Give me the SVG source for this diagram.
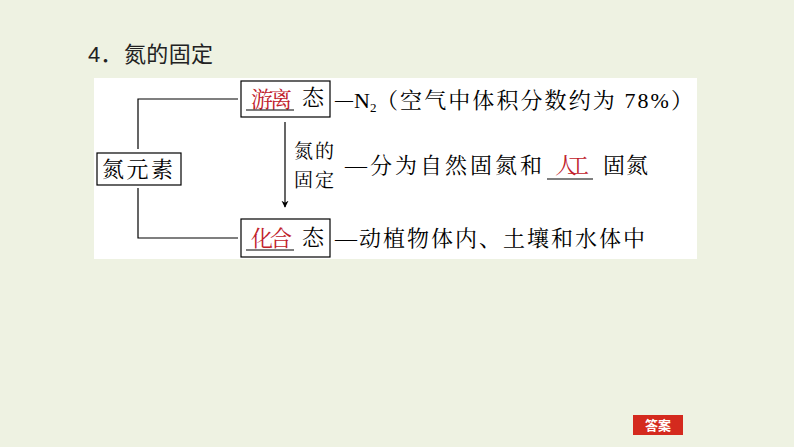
<svg xmlns="http://www.w3.org/2000/svg" width="794" height="447" viewBox="0 0 794 447">
<style>
.s{font-family:"Liberation Serif","Noto Serif CJK SC","Noto Sans CJK SC",serif;fill:#000}
.t{font-size:22px}
.r{fill:#C0202A}
.box{fill:#fff;stroke:#000;stroke-width:1.2}
.ln{fill:none;stroke:#000;stroke-width:1.2}
.ul{stroke:#000;stroke-width:1.2}
</style>
<defs>
<marker id="ah" viewBox="0 0 10 10" refX="9" refY="5" markerWidth="7" markerHeight="9" orient="auto" markerUnits="userSpaceOnUse">
<path d="M0,0 L10,5 L0,10 L3,5 Z" fill="#000"/>
</marker>
</defs>
<rect width="794" height="447" fill="#EEF2E2"/>
<text x="88" y="62" font-family="'Liberation Sans','Noto Sans CJK SC',sans-serif" font-size="22" fill="#222">4．<tspan x="124" font-family="'Noto Sans CJK SC',sans-serif" textLength="89" lengthAdjust="spacing">氮的固定</tspan></text>
<rect x="94" y="78" width="603" height="181" fill="#fff"/>
<g id="connectors">
<polyline class="ln" points="138,149 138,99 238,99"/>
<polyline class="ln" points="138,188 138,238 238,238"/>
<line class="ln" x1="285" y1="122" x2="285" y2="207" marker-end="url(#ah)"/>
</g>
<g id="n-element">
<rect class="box" x="97" y="153" width="84" height="32"/>
<text class="s t" x="102" y="177" textLength="71" lengthAdjust="spacing">氮元素</text>
</g>
<g id="n-free">
<rect class="box" x="241" y="81" width="89" height="36"/>
<text class="s t r" x="251" y="107" textLength="41" lengthAdjust="spacing">游离</text>
<line class="ul" x1="246" y1="110" x2="294" y2="110"/>
<text class="s t" x="302" y="105">态</text>
</g>
<g id="n-comb">
<rect class="box" x="241" y="219" width="89" height="38"/>
<text class="s t r" x="251" y="246" textLength="41" lengthAdjust="spacing">化合</text>
<line class="ul" x1="246" y1="250" x2="294" y2="250"/>
<text class="s t" x="302" y="245">态</text>
</g>
<g id="fix-label">
<text class="s" font-size="19" x="294" y="158" textLength="40" lengthAdjust="spacing">氮的</text>
<text class="s" font-size="19" x="294" y="187" textLength="40" lengthAdjust="spacing">固定</text>
</g>
<g id="desc1">
<text class="s" font-size="18" x="335" y="106">—</text>
<text class="s t" x="354" y="108">N<tspan font-size="13" dy="4">2</tspan></text>
<text class="s t" x="376" y="108" textLength="317" lengthAdjust="spacing">（空气中体积分数约为 78%）</text>
</g>
<g id="desc2">
<text class="s t" x="345" y="173" textLength="197" lengthAdjust="spacing">—分为自然固氮和</text>
<text class="s t r" x="555" y="173" textLength="34" lengthAdjust="spacing">人工</text>
<line class="ul" x1="547" y1="179" x2="593" y2="179"/>
<text class="s t" x="603" y="173" textLength="45" lengthAdjust="spacing">固氮</text>
</g>
<g id="desc3">
<text class="s t" x="335" y="246" textLength="310" lengthAdjust="spacing">—动植物体内、土壤和水体中</text>
</g>
<g id="answer">
<rect x="633" y="415" width="50" height="20" fill="#D42A1E"/>
<text x="658" y="430" text-anchor="middle" font-family="'Noto Sans CJK SC',sans-serif" font-size="13" font-weight="bold" fill="#fff">答案</text>
</g>
</svg>
